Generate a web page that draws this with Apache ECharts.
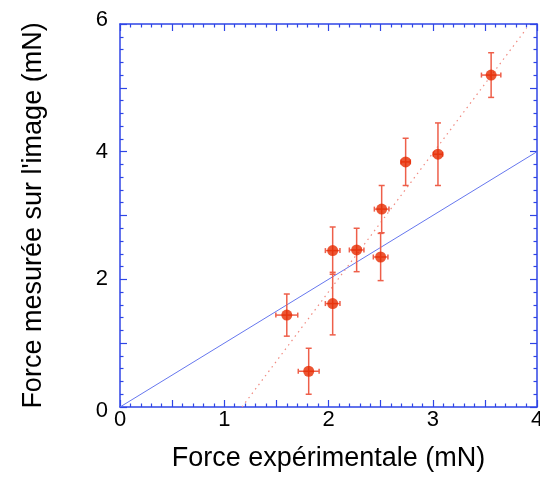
<!DOCTYPE html>
<html><head><meta charset="utf-8">
<script src="https://cdn.jsdelivr.net/npm/echarts@6/dist/echarts.min.js"></script>
<style>html,body{margin:0;padding:0;background:#fff}#c{width:540px;height:479px}</style>
</head><body><div id="c"></div>
<script>
const forceExp = [1.60, 1.81, 2.04, 2.04, 2.27, 2.50, 2.51, 2.74, 3.05, 3.56];
const forceImg = [1.44, 0.56, 1.62, 2.45, 2.46, 2.35, 3.10, 3.84, 3.96, 5.20];
const errExp   = [0.105, 0.10, 0.07, 0.07, 0.07, 0.07, 0.07, 0.045, 0.045, 0.093];
const errImg   = [0.33, 0.36, 0.49, 0.37, 0.34, 0.37, 0.37, 0.37, 0.49, 0.35];
const identityLine = [[0, 0], [4, 4]];
const fitLine = [[1.17, 0], [3.9, 5.93]];
const xLabels = [0, 1, 2, 3, 4];
const yLabels = [0, 2, 4, 6];

const axisBlue = '#2f45e6';
const pts = forceExp.map((x, i) => [x, forceImg[i], errExp[i], errImg[i]]);

function errRender(params, api) {
  const x = api.value(0), y = api.value(1), ex = api.value(2), ey = api.value(3);
  const c = api.coord([x, y]);
  const top = api.coord([x, y + ey]);
  const bot = api.coord([x, y - ey]);
  const l = api.coord([x - ex, y]);
  const r = api.coord([x + ex, y]);
  const st = {stroke: '#ee5f4a', lineWidth: 1.5};
  const cw = 3, ch = 2.5;
  return {type: 'group', children: [
    {type: 'line', shape: {x1: c[0], y1: top[1], x2: c[0], y2: bot[1]}, style: st},
    {type: 'line', shape: {x1: c[0] - cw, y1: top[1], x2: c[0] + cw, y2: top[1]}, style: st},
    {type: 'line', shape: {x1: c[0] - cw, y1: bot[1], x2: c[0] + cw, y2: bot[1]}, style: st},
    {type: 'line', shape: {x1: l[0], y1: c[1], x2: r[0], y2: c[1]}, style: st},
    {type: 'line', shape: {x1: l[0], y1: c[1] - ch, x2: l[0], y2: c[1] + ch}, style: st},
    {type: 'line', shape: {x1: r[0], y1: c[1] - ch, x2: r[0], y2: c[1] + ch}, style: st}
  ]};
}

const font = 'Liberation Sans, Helvetica, Arial, sans-serif';
function xAx(pos, show) {
  return {type: 'value', position: pos, min: 0, max: 4, interval: 0.5,
    axisLine: {onZero: false, lineStyle: {color: axisBlue, width: 1.5}},
    axisTick: {inside: true, length: 7, lineStyle: {color: axisBlue, width: 1.2}},
    minorTick: {show: true, splitNumber: 5, length: 3.5, lineStyle: {color: axisBlue, width: 1.2}},
    splitLine: {show: false},
    axisLabel: {show: show, color: '#000', fontSize: 22, fontFamily: font, margin: 2,
      formatter: v => xLabels.includes(v) ? String(v) : ''},
    name: show ? 'Force expérimentale (mN)' : '', nameLocation: 'middle', nameGap: 38,
    nameTextStyle: {color: '#000', fontSize: 27, fontFamily: font}};
}
function yAx(pos, show) {
  return {type: 'value', position: pos, min: 0, max: 6, interval: 1,
    axisLine: {onZero: false, lineStyle: {color: axisBlue, width: 1.5}},
    axisTick: {inside: true, length: 7, lineStyle: {color: axisBlue, width: 1.2}},
    minorTick: {show: true, splitNumber: 5, length: 3.5, lineStyle: {color: axisBlue, width: 1.2}},
    splitLine: {show: false},
    axisLabel: {show: show, color: '#000', fontSize: 22, fontFamily: font, margin: 12,
      formatter: v => {
        if (!yLabels.includes(v)) return '';
        if (v === yLabels[yLabels.length - 1]) return '{hi|' + v + '}';
        if (v === yLabels[0]) return '{lo|' + v + '}';
        return String(v);
      },
      rich: {
        hi: {fontSize: 22, fontFamily: font, color: '#000', padding: [0, 0, 8, 0]},
        lo: {fontSize: 22, fontFamily: font, color: '#000', padding: [8, 0, 0, 0]}
      }},
    name: show ? "Force mesurée sur l'image (mN)" : '', nameLocation: 'middle', nameGap: 73,
    nameTextStyle: {color: '#000', fontSize: 27, fontFamily: font}};
}

const chart = echarts.init(document.getElementById('c'), null, {renderer: 'canvas'});
chart.setOption({
  animation: false,
  grid: {left: 120, right: 3, top: 24, bottom: 72, containLabel: false, outerBoundsMode: 'none'},
  xAxis: [xAx('bottom', true), xAx('top', false)],
  yAxis: [yAx('left', true), yAx('right', false)],
  series: [
    {type: 'line', data: identityLine, symbol: 'none', lineStyle: {color: '#6677ee', width: 1}, z: 2},
    {type: 'line', data: fitLine, symbol: 'none', lineStyle: {color: '#f08a80', width: 1.2, type: [1.5, 4]}, z: 2},
    {type: 'custom', data: pts, renderItem: errRender, z: 3},
    {type: 'scatter', data: pts.map(p => [p[0], p[1]]), symbol: 'circle', symbolSize: 11,
      itemStyle: {color: '#e62a00'}, z: 4}
  ]
});
</script></body></html>
